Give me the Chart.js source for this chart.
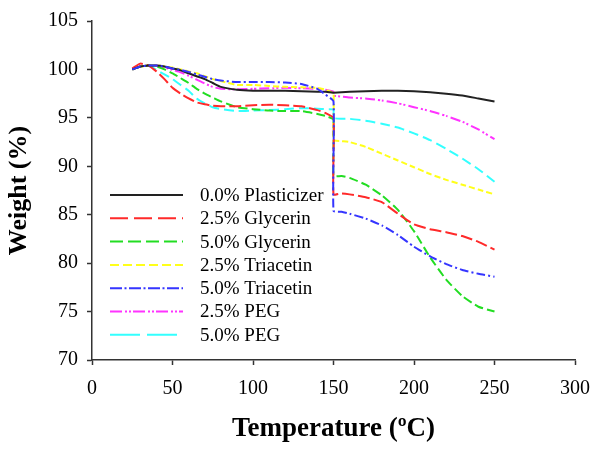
<!DOCTYPE html>
<html>
<head>
<meta charset="utf-8">
<script src="https://cdn.jsdelivr.net/npm/chart.js@4.4.0/dist/chart.umd.min.js"></script>
<style>
  html, body { margin: 0; padding: 0; background: #fff; }
</style>
</head>
<body>
<canvas id="tgaChart" width="602" height="450"></canvas>
<script>
// temperature (°C) – 150 appears twice: the curves drop vertically there
const temps = [25, 30, 35, 40, 45, 50, 55, 60, 65, 70, 75, 80, 90, 100, 110, 120, 130, 140, 145, 150,
               150, 155, 160, 170, 180, 190, 200, 210, 220, 230, 240, 250];

// weight (%)
const plain0 = [100.0, 100.3, 100.4, 100.4, 100.3, 100.1, 99.9, 99.6, 99.3, 99.0, 98.6, 98.2, 97.9, 97.8, 97.8, 97.8, 97.75, 97.7, 97.7, 97.6,
                97.6, 97.65, 97.7, 97.75, 97.8, 97.8, 97.75, 97.65, 97.5, 97.3, 97.0, 96.7];
const glyc25 = [100.1, 100.6, 100.4, 99.8, 99.0, 98.1, 97.5, 97.0, 96.6, 96.4, 96.25, 96.2, 96.2, 96.3, 96.35, 96.3, 96.2, 95.8, 95.5, 95.0,
                87.1, 87.2, 87.1, 86.8, 86.3, 85.1, 84.0, 83.5, 83.2, 82.8, 82.2, 81.4];
const glyc50 = [100.0, 100.3, 100.4, 100.3, 100.0, 99.6, 99.1, 98.6, 98.0, 97.5, 97.1, 96.7, 96.1, 95.9, 95.75, 95.7, 95.7, 95.4, 95.2, 94.8,
                89.0, 89.0, 88.8, 88.1, 87.0, 85.5, 83.3, 80.6, 78.3, 76.6, 75.5, 75.0];
const tria25 = [100.0, 100.3, 100.4, 100.4, 100.3, 100.2, 100.0, 99.8, 99.6, 99.3, 99.0, 98.8, 98.4, 98.4, 98.3, 98.2, 98.15, 98.1, 97.9, 97.5,
                92.7, 92.6, 92.5, 92.0, 91.3, 90.6, 89.9, 89.2, 88.6, 88.1, 87.6, 87.1];
const tria50 = [100.0, 100.3, 100.4, 100.4, 100.3, 100.1, 99.95, 99.75, 99.5, 99.25, 99.0, 98.85, 98.7, 98.7, 98.7, 98.65, 98.5, 98.0, 97.4, 96.7,
                85.4, 85.3, 85.1, 84.6, 83.9, 82.9, 81.7, 80.7, 79.9, 79.3, 78.9, 78.6];
const peg25  = [100.0, 100.3, 100.4, 100.4, 100.2, 99.95, 99.7, 99.35, 98.95, 98.55, 98.2, 98.0, 97.95, 98.0, 98.05, 98.1, 98.05, 98.0, 97.9, 97.7,
                97.3, 97.2, 97.1, 97.0, 96.8, 96.5, 96.1, 95.7, 95.2, 94.6, 93.8, 92.8];
const peg50  = [100.1, 100.3, 100.4, 99.95, 99.5, 99.0, 98.4, 97.8, 97.0, 96.5, 96.1, 95.9, 95.7, 95.75, 95.8, 95.9, 96.0, 95.95, 95.9, 95.85,
                95.0, 94.9, 94.9, 94.7, 94.4, 94.0, 93.4, 92.7, 91.8, 90.8, 89.7, 88.4];

const seriesNames = ["0.0% Plasticizer", "2.5% Glycerin", "5.0% Glycerin", "2.5% Triacetin",
                     "5.0% Triacetin", "2.5% PEG", "5.0% PEG"];
const seriesValues = [plain0, glyc25, glyc50, tria25, tria50, peg25, peg50];

const xTicks = [0, 50, 100, 150, 200, 250, 300];
const yTicks = [70, 75, 80, 85, 90, 95, 100, 105];

const serif = '"Liberation Serif", "Times New Roman", serif';

const styles = [
    { color: "#222222", dash: [],                    legendDash: [] },
    { color: "#ff2a2a", dash: [12, 4],               legendDash: [18, 6] },
    { color: "#22dd22", dash: [9, 4],                legendDash: [13, 5] },
    { color: "#ffff1a", dash: [6, 3],                legendDash: [9, 4] },
    { color: "#3535ff", dash: [9, 3, 2, 3],          legendDash: [12, 2.5, 2, 2.5] },
    { color: "#ff33ff", dash: [10, 3, 2, 2, 2, 3],   legendDash: [12, 3, 2, 2, 2, 2] },
    { color: "#33ffff", dash: [10, 5],               legendDash: [30, 7] }
];

const datasets = seriesNames.map((name, i) => ({
    label: name,
    data: temps.map((t, k) => ({ x: t, y: seriesValues[i][k] })),
    borderColor: styles[i].color,
    borderDash: styles[i].dash,
    legendDash: styles[i].legendDash,
    borderWidth: 2,
    pointRadius: 0,
    tension: 0.15,
    fill: false,
    order: i === 4 ? 0 : 1
}));

// legend drawn inside the plot, like the original figure
const insideLegend = {
    id: "insideLegend",
    afterDatasetsDraw(chart) {
        const { ctx, chartArea } = chart;
        const x0 = chartArea.left + 18;
        const x1 = chartArea.left + 91;
        ctx.save();
        ctx.font = "19px " + serif;
        ctx.textBaseline = "middle";
        ctx.fillStyle = "#000";
        chart.data.datasets.forEach((ds, i) => {
            const y = 195 + i * 23.3;
            ctx.strokeStyle = ds.borderColor;
            ctx.lineWidth = 2;
            ctx.setLineDash(ds.legendDash);
            ctx.beginPath();
            ctx.moveTo(x0, y);
            ctx.lineTo(x1, y);
            ctx.stroke();
            ctx.setLineDash([]);
            ctx.fillText(ds.label, x1 + 17, y + 1);
        });
        ctx.restore();
    }
};

new Chart(document.getElementById("tgaChart"), {
    type: "line",
    data: { datasets: datasets },
    options: {
        responsive: false,
        animation: false,
        devicePixelRatio: 1,
        layout: { padding: { left: 0, right: 25, top: 17, bottom: 0 } },
        plugins: {
            legend: { display: false },
            tooltip: { enabled: false }
        },
        scales: {
            x: {
                type: "linear",
                min: 0,
                max: 300,
                afterFit: (scale) => { scale.height = 90; },
                afterBuildTicks: (scale) => { scale.ticks = xTicks.map(v => ({ value: v })); },
                grid: { drawOnChartArea: false, drawTicks: true, tickLength: 5, tickColor: "#333", tickWidth: 1.5 },
                border: { color: "#333", width: 1.5 },
                ticks: { color: "#000", padding: 12, font: { family: serif, size: 20 } },
                title: {
                    display: true,
                    text: "Temperature (ºC)",
                    color: "#000",
                    padding: { top: 0, bottom: 5 },
                    font: { family: serif, size: 27, weight: "bold" }
                }
            },
            y: {
                min: 70,
                max: 105,
                afterFit: (scale) => { scale.width = 92; },
                afterBuildTicks: (scale) => { scale.ticks = yTicks.map(v => ({ value: v })); },
                grid: { drawOnChartArea: false, drawTicks: true, tickLength: 5, tickColor: "#333", tickWidth: 1.5 },
                border: { color: "#333", width: 1.5 },
                ticks: { color: "#000", padding: 9, font: { family: serif, size: 20 } },
                title: {
                    display: true,
                    text: "Weight (%)",
                    color: "#000",
                    padding: { top: 4, bottom: 0 },
                    font: { family: serif, size: 26, weight: "bold" }
                }
            }
        }
    },
    plugins: [insideLegend]
});
</script>
</body>
</html>
